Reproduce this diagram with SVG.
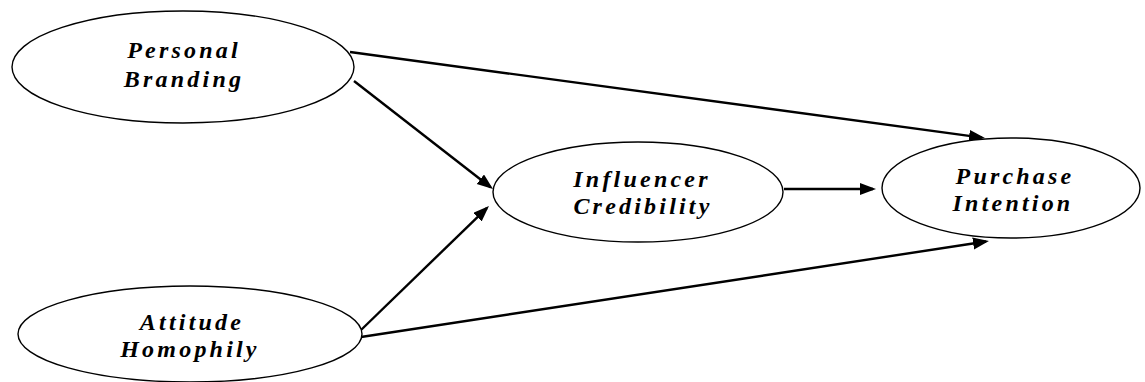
<svg xmlns="http://www.w3.org/2000/svg" width="1145" height="382" viewBox="0 0 1145 382">
<style>
  .node ellipse { fill: #ffffff; stroke: #000000; stroke-width: 1.4; }
  .node text { font-family: "Liberation Serif", "Times New Roman", serif; font-weight: bold; font-style: italic; font-size: 24px; letter-spacing: 3.2px; text-anchor: middle; fill: #000000; }
  .edges path { fill: none; stroke: #000000; stroke-width: 2.4; marker-end: url(#arrow); }
</style>
<defs>
  <marker id="arrow" markerUnits="userSpaceOnUse" markerWidth="17" markerHeight="13" refX="13" refY="6" orient="auto">
    <path d="M0,0 L16,6 L0,12 z" fill="#000000"/>
  </marker>
</defs>
<rect x="0" y="0" width="1145" height="382" fill="#ffffff"/>
<g class="edges">
  <path d="M354,81 L490.6,187.2"/>
  <path d="M350,52 L982,137.6"/>
  <path d="M361,330 L486.8,208.1"/>
  <path d="M361,337 L986,241.5"/>
  <path d="M784,189 L873,189"/>
</g>
<g id="personal-branding" class="node">
  <ellipse cx="183" cy="67" rx="171" ry="56"/>
  <text x="184" y="58">Personal</text>
  <text x="184" y="87">Branding</text>
</g>
<g id="attitude-homophily" class="node">
  <ellipse cx="190" cy="334" rx="172" ry="48"/>
  <text x="192" y="330">Attitude</text>
  <text x="190" y="357">Homophily</text>
</g>
<g id="influencer-credibility" class="node">
  <ellipse cx="638" cy="192" rx="145" ry="50"/>
  <text x="642" y="187">Influencer</text>
  <text x="643" y="214">Credibility</text>
</g>
<g id="purchase-intention" class="node">
  <ellipse cx="1011" cy="188" rx="129" ry="50"/>
  <text x="1015" y="184">Purchase</text>
  <text x="1013" y="211">Intention</text>
</g>
</svg>
